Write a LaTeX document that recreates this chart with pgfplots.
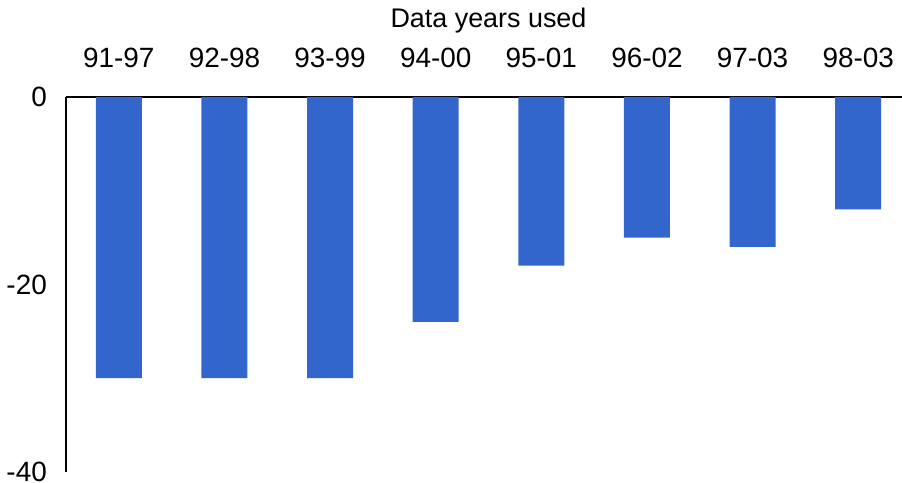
\documentclass[border=0pt]{standalone}
\usepackage{pgfplots}
\pgfplotsset{compat=1.18}
\usepackage{fontspec}
\setmainfont{Liberation Sans}
\definecolor{barblue}{HTML}{3366CC}
\begin{document}
\begin{tikzpicture}
\path[use as bounding box] (-66bp,-11bp) rectangle (836bp,472bp);
\begin{axis}[
  at={(0,0)}, anchor=south west,
  scale only axis, width=845bp, height=375bp,
  xmin=-0.5, xmax=7.5, ymin=-40, ymax=0,
  axis x line*=top, axis y line*=left,
  axis line style={line width=1.3bp, black},
  xtick={0,...,7},
  xticklabels={91-97,92-98,93-99,94-00,95-01,96-02,97-03,98-03},
  ytick={0,-20,-40},
  major tick length=0pt,
  tick label style={font=\fontsize{28}{32}\selectfont},
  /pgf/number format/assume math mode=true,
  xticklabel style={inner sep=0pt, anchor=base, yshift=29bp},
  yticklabel style={inner sep=0pt, anchor=east, xshift=-19bp},
  xlabel={Data years used},
  xlabel style={font=\fontsize{27}{32}\selectfont, inner sep=0pt, anchor=base, at={(rel axis cs:0.5,1)}, yshift=69bp},
  ybar, bar width=46bp,
  clip=false,
]
\addplot[fill=barblue, draw=none] coordinates {
(0,-30) (1,-30) (2,-30) (3,-24) (4,-18) (5,-15) (6,-16) (7,-12)
};
\end{axis}
\end{tikzpicture}
\end{document}
